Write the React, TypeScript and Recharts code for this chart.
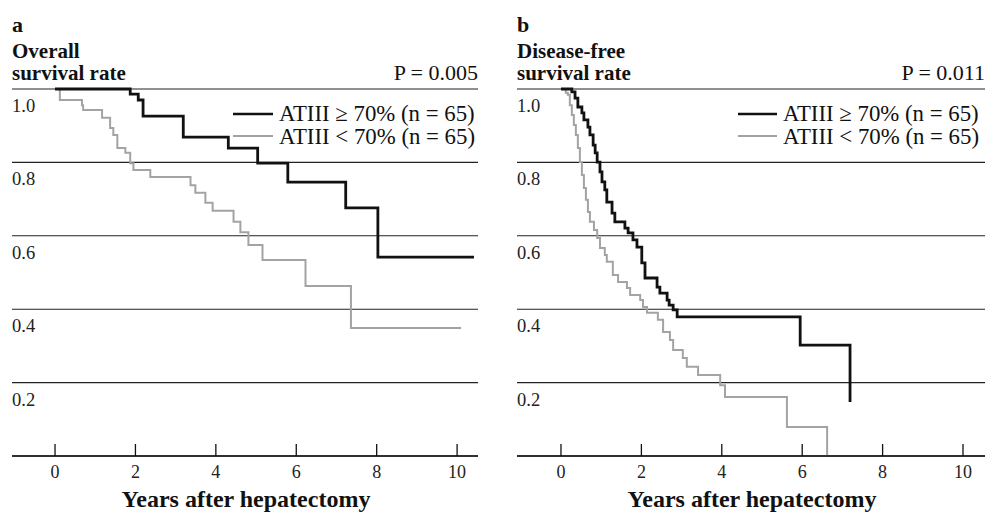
import { LineChart, Line, XAxis, YAxis, CartesianGrid } from 'recharts';

// Overall survival (panel a)
const osHighYears = [0, 1.87, 2.07, 2.19, 3.19, 4.31, 5.04, 5.79, 7.23, 8.03, 10.42];
const osHighRate = [1, 0.986, 0.97, 0.926, 0.869, 0.839, 0.798, 0.746, 0.676, 0.542, 0.542];
const osLowYears = [0, 0.12, 0.67, 0.7, 1.17, 1.37, 1.45, 1.55, 1.75, 1.87, 1.95, 2.37, 3.37, 3.49, 3.74, 3.92, 4.44, 4.61, 4.81, 5.16, 6.23, 7.36, 10.1];
const osLowRate = [1, 0.97, 0.956, 0.943, 0.922, 0.894, 0.875, 0.839, 0.826, 0.798, 0.779, 0.76, 0.738, 0.717, 0.69, 0.668, 0.638, 0.61, 0.575, 0.534, 0.463, 0.349, 0.349];

// Disease-free survival (panel b)
const dfsHighYears = [0, 0.27, 0.35, 0.42, 0.52, 0.57, 0.67, 0.72, 0.8, 0.85, 0.9, 0.97, 1.02, 1.09, 1.14, 1.27, 1.34, 1.59, 1.67, 1.79, 1.89, 2.01, 2.09, 2.39, 2.46, 2.64, 2.69, 2.79, 2.89, 5.95, 7.19];
const dfsHighRate = [1, 0.992, 0.975, 0.951, 0.935, 0.916, 0.896, 0.875, 0.847, 0.826, 0.801, 0.774, 0.747, 0.725, 0.692, 0.662, 0.638, 0.621, 0.608, 0.589, 0.569, 0.526, 0.485, 0.46, 0.444, 0.425, 0.411, 0.398, 0.379, 0.302, 0.147];
const dfsLowYears = [0, 0.12, 0.17, 0.22, 0.27, 0.32, 0.37, 0.42, 0.47, 0.52, 0.57, 0.62, 0.67, 0.72, 0.82, 0.9, 0.97, 1.09, 1.14, 1.29, 1.42, 1.64, 1.72, 1.97, 2.04, 2.14, 2.41, 2.54, 2.71, 2.79, 3.03, 3.13, 3.41, 3.96, 4.08, 5.62, 6.62];
const dfsLowRate = [1, 0.99, 0.984, 0.956, 0.929, 0.902, 0.875, 0.839, 0.801, 0.766, 0.73, 0.698, 0.665, 0.638, 0.616, 0.594, 0.567, 0.548, 0.529, 0.493, 0.474, 0.458, 0.439, 0.425, 0.406, 0.39, 0.371, 0.338, 0.316, 0.289, 0.267, 0.243, 0.221, 0.193, 0.161, 0.079, 0];

const xTicks = [0, 2, 4, 6, 8, 10];
const yTicks = [0.2, 0.4, 0.6, 0.8, 1.0];
const legendLabels = ['ATIII \u2265 70% (n = 65)', 'ATIII < 70% (n = 65)'];

const SERIF = '"Liberation Serif", "Times New Roman", serif';
const HIGH = '#111';
const LOW = '#a3a3a3';

const zip = (t: number[], s: number[]) => t.map((x, i) => ({ t: x, s: s[i] }));

const XTick = ({ x, y, payload }: any) => (
  <g>
    <line x1={x} y1={y} x2={x} y2={y - 12} stroke="#111" strokeWidth={1.3} />
    <text x={x} y={y + 22} textAnchor="middle" fontFamily={SERIF} fontSize={18} fill="#222">{payload.value}</text>
  </g>
);

const YTick = ({ y, payload }: any) => (
  <text x={12} y={y + 23} textAnchor="start" fontFamily={SERIF} fontSize={18.5} fill="#222">{Number(payload.value).toFixed(1)}</text>
);

interface PanelProps {
  left: number; width: number; domain: [number, number];
  high: { t: number; s: number }[]; low: { t: number; s: number }[];
  marginRight: number;
}

function Panel({ left, width, domain, high, low, marginRight }: PanelProps) {
  return (
    <div style={{ position: 'absolute', left, top: 0, width, height: 512 }}>
      <LineChart width={width} height={512} margin={{ top: 89, right: marginRight, bottom: 16, left: 11 }}>
        <CartesianGrid vertical={false} stroke="#222" strokeWidth={1.1} />
        <XAxis type="number" dataKey="t" domain={domain} ticks={xTicks} allowDataOverflow
          height={40} tickSize={0} tickMargin={0} tickLine={false}
          axisLine={{ stroke: '#111', strokeWidth: 1.5 }} tick={<XTick />} />
        <YAxis type="number" dataKey="s" domain={[0, 1]} ticks={yTicks} width={1}
          tickSize={0} tickMargin={0} tickLine={false} axisLine={false} tick={<YTick />} />
        <Line data={low} dataKey="s" type="stepAfter" stroke={LOW} strokeWidth={2} dot={false} isAnimationActive={false} />
        <Line data={high} dataKey="s" type="stepAfter" stroke={HIGH} strokeWidth={2.8} dot={false} isAnimationActive={false} />
      </LineChart>
    </div>
  );
}

function Labels({ x0, x1, letter, title1, p, legendX, textX, axisCenter }: any) {
  return (
    <>
      <text x={x0} y={32} fontFamily={SERIF} fontWeight="bold" fontSize={22} fill="#111">{letter}</text>
      <text x={x0} y={58} fontFamily={SERIF} fontWeight="bold" fontSize={21} fill="#111">{title1}</text>
      <text x={x0} y={80} fontFamily={SERIF} fontWeight="bold" fontSize={21} fill="#111">survival rate</text>
      <text x={x1} y={80} textAnchor="end" fontFamily={SERIF} fontSize={22} fill="#111">{p}</text>
      <line x1={legendX} x2={textX - 6} y1={114} y2={114} stroke={HIGH} strokeWidth={2.4} />
      <text x={textX} y={121} fontFamily={SERIF} fontSize={22.8} fill="#111">{legendLabels[0]}</text>
      <line x1={legendX} x2={textX - 6} y1={136} y2={136} stroke={LOW} strokeWidth={2} />
      <text x={textX} y={144} fontFamily={SERIF} fontSize={22.8} fill="#111">{legendLabels[1]}</text>
      <text x={axisCenter} y={507} textAnchor="middle" fontFamily={SERIF} fontWeight="bold" fontSize={24} fill="#111">Years after hepatectomy</text>
    </>
  );
}

export default function App() {
  return (
    <div style={{ position: 'absolute', left: 0, top: 0, width: 986, height: 512, background: '#fff', overflow: 'hidden' }}>
      <Panel left={0} width={490} domain={[-1.07, 10.52]} high={zip(osHighYears, osHighRate)} low={zip(osLowYears, osLowRate)} marginRight={12} />
      <Panel left={505} width={481} domain={[-1.094, 10.547]} high={zip(dfsHighYears, dfsHighRate)} low={zip(dfsLowYears, dfsLowRate)} marginRight={1} />
      <svg width={986} height={512} style={{ position: 'absolute', left: 0, top: 0, pointerEvents: 'none' }}>
        <Labels x0={12} x1={478} letter="a" title1="Overall" p="P = 0.005" legendX={233} textX={279} axisCenter={246} />
        <Labels x0={517} x1={985} letter="b" title1="Disease-free" p="P = 0.011" legendX={738} textX={783} axisCenter={752} />
      </svg>
    </div>
  );
}
